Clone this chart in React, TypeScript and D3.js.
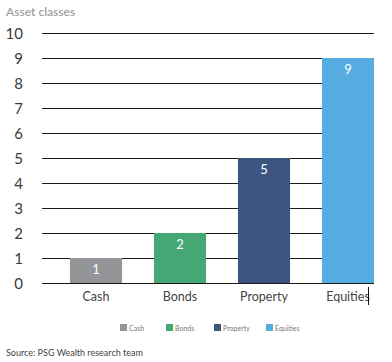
import * as d3 from 'd3'

const categories = ['Cash', 'Bonds', 'Property', 'Equities']
const values = [1, 2, 5, 9]
const colors = ['#939598', '#45a874', '#3b5480', '#56abe0']
const yTicks = [0, 1, 2, 3, 4, 5, 6, 7, 8, 9, 10]

const font = 'Lato, "Open Sans", sans-serif'

export default function App() {
  const width = 392
  const height = 362

  const x = d3.scaleBand<string>().domain(categories).range([54, 390]).paddingInner(0.38).paddingOuter(0.19)
  const y = d3.scaleLinear().domain([0, 10]).range([283, 33])

  const legend = d3.scaleOrdinal<string, number>().domain(categories).range([120, 166, 214, 266])

  return (
    <div style={{ position: 'absolute', left: 0, top: 0 }}>
      <svg width={width} height={height} style={{ display: 'block', background: '#fff' }}>
        <text x={6} y={16} fontFamily={font} fontSize={12} fontWeight={600} fill="#a0a0a0">
          Asset classes
        </text>

        {/* grid */}
        {yTicks.map(t => (
          <g key={t}>
            <line x1={42} x2={374} y1={Math.round(y(t)) + 0.5} y2={Math.round(y(t)) + 0.5} stroke="#1a1a1a" strokeWidth={1} />
            <text x={23} y={y(t) + 5.5} textAnchor="end" fontFamily={font} fontSize={15} fill="#3a3a3a">
              {t}
            </text>
          </g>
        ))}

        {/* bars */}
        {categories.map((c, i) => (
          <g key={c}>
            <rect x={x(c)} y={y(values[i])} width={x.bandwidth()} height={y(0) - y(values[i])} fill={colors[i]} />
            <text
              x={(x(c) ?? 0) + x.bandwidth() / 2}
              y={y(values[i]) + 16}
              textAnchor="middle"
              fontFamily={font}
              fontSize={13}
              fill="#fff"
            >
              {values[i]}
            </text>
            <text
              x={(x(c) ?? 0) + x.bandwidth() / 2}
              y={301}
              textAnchor="middle"
              fontFamily={font}
              fontSize={12.5}
              fill="#444"
            >
              {c}
            </text>
          </g>
        ))}

        {/* cursor mark after Equities */}
        <line x1={368.5} x2={368.5} y1={287} y2={305} stroke="#111" strokeWidth={1} />

        {/* legend */}
        {categories.map((c, i) => (
          <g key={c} transform={`translate(${legend(c)},324)`}>
            <rect width={7} height={7} fill={colors[i]} />
            <text x={9} y={6.5} fontFamily={font} fontSize={7} fill="#777">
              {c}
            </text>
          </g>
        ))}

        <text x={6} y={356} fontFamily={font} fontSize={9} fill="#444">
          Source: PSG Wealth research team
        </text>
      </svg>
    </div>
  )
}
